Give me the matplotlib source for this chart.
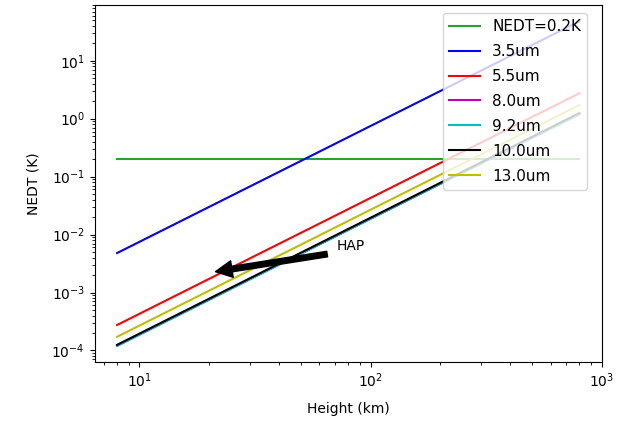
import matplotlib
matplotlib.use('Agg')
import matplotlib.pyplot as plt
import numpy as np

# end points of each curve (height in km, NEDT in K)
heights = [8, 800]
nedt_limit = [0.2, 0.2]
nedt_3_5 = [4.8e-3, 48.0]
nedt_5_5 = [2.75e-4, 2.75]
nedt_8_0 = [1.2e-4, 1.2]
nedt_9_2 = [1.2e-4, 1.2]
nedt_10_0 = [1.25e-4, 1.25]
nedt_13_0 = [1.72e-4, 1.72]

labels = ['NEDT=0.2K', '3.5um', '5.5um', '8.0um', '9.2um', '10.0um', '13.0um']
colors = ['#2ca02c', 'b', 'r', 'm', 'c', 'k', 'y']

fig = plt.figure(figsize=(6.23, 4.22), dpi=100)
ax = fig.add_axes([0.152, 0.142, 0.814, 0.846])

series = [nedt_limit, nedt_3_5, nedt_5_5, nedt_8_0, nedt_9_2, nedt_10_0, nedt_13_0]
for vals, lab, col in zip(series, labels, colors):
    ax.plot(heights, vals, color=col, label=lab)

ax.set_xscale('log')
ax.set_yscale('log')
ax.set_xlim(6.4, 1000)
ax.set_xlabel('Height (km)', labelpad=8)
ax.set_ylabel('NEDT (K)', labelpad=8)

ax.annotate('HAP', xy=(20, 2.2e-3), xytext=(71, 5.5e-3),
            arrowprops=dict(facecolor='black', shrink=0.05))

ax.legend(loc='upper right', bbox_to_anchor=(0.971, 0.978), borderaxespad=0,
          fontsize=11, labelspacing=0.65)

fig.savefig('out.png', dpi=100)
